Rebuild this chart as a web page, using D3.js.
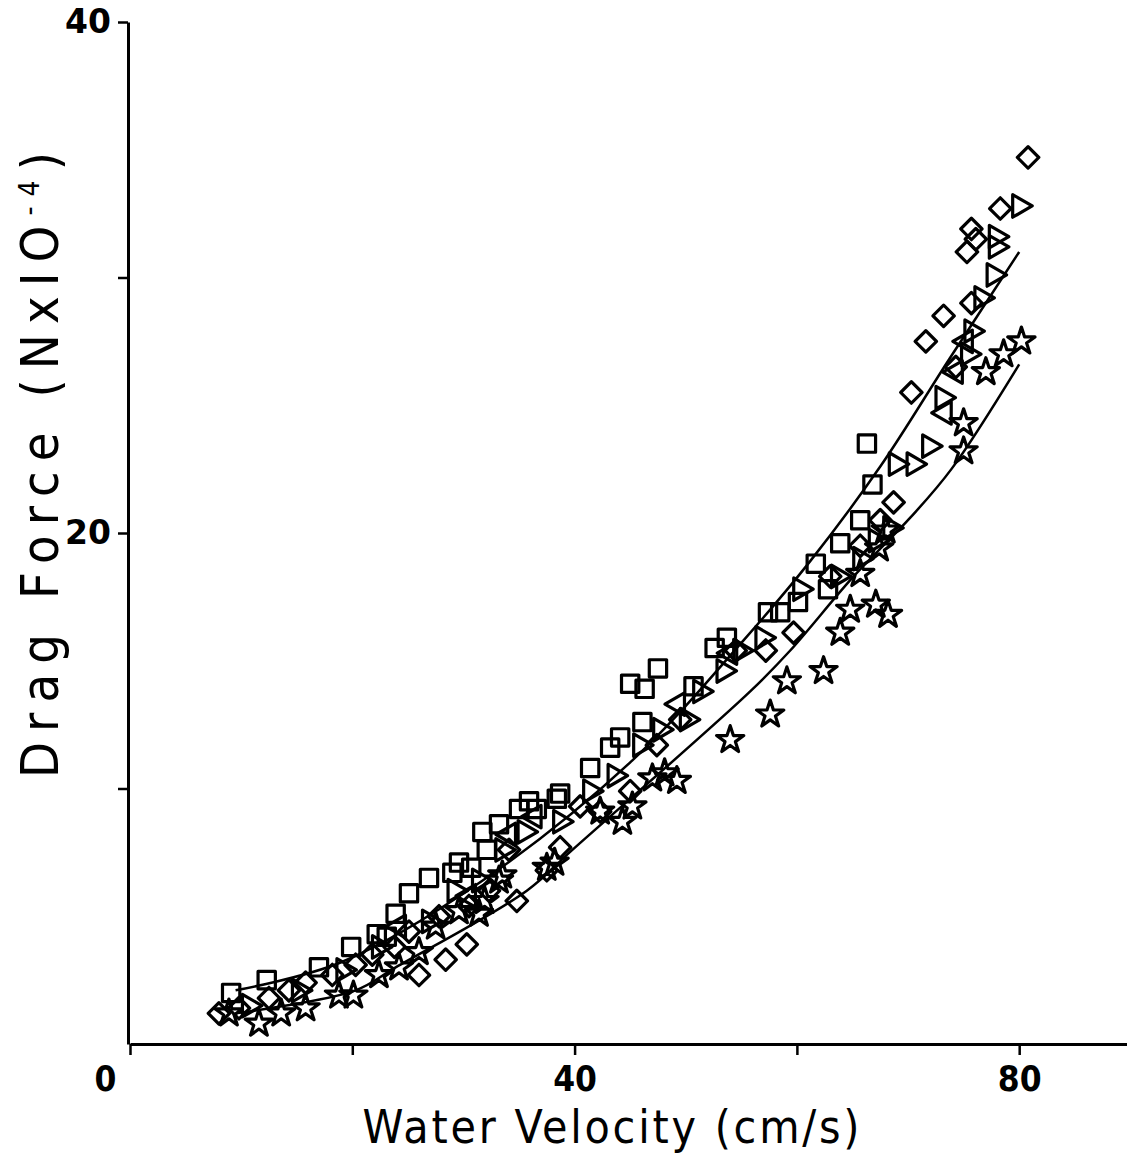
<!DOCTYPE html>
<html>
<head>
<meta charset="utf-8">
<script src="https://cdn.jsdelivr.net/npm/d3@7"></script>
<style>
  body { margin: 0; background: #fff; }
  .axis .domain { stroke: #000; stroke-width: 3; }
  .axis .tick line { stroke: #000; stroke-width: 2.5; }
  .axis .tick text { font-family: "DejaVu Sans", sans-serif; font-weight: bold; font-size: 33px; fill: #000; }
  .x-axis .tick text { font-family: "DejaVu Sans Condensed", "DejaVu Sans", sans-serif; font-size: 35px; }
  .title { font-family: "DejaVu Sans Condensed", "DejaVu Sans", sans-serif; fill: #000; }
</style>
</head>
<body>
<div id="chart"></div>
<script>
// velocity (cm/s), drag force (N x 10^-4)
const squares = [
  [9.1, 2.0], [12.3, 2.5], [17.0, 3.0], [19.9, 3.8], [22.2, 4.3], [23.1, 4.2], [23.9, 5.1],
  [25.1, 5.9], [26.9, 6.5], [29.0, 6.7], [29.6, 7.1], [30.7, 6.9], [31.7, 8.3], [32.1, 7.6],
  [33.2, 8.6], [35.0, 9.2], [35.9, 9.5], [36.6, 9.2], [38.4, 9.6], [38.7, 9.8], [41.4, 10.8],
  [43.2, 11.6], [44.1, 12.0], [46.1, 12.6], [45.0, 14.1], [46.3, 13.9], [47.5, 14.7], [50.7, 14.0],
  [52.6, 15.5], [53.7, 15.9], [57.4, 16.9], [58.5, 16.9], [60.1, 17.3], [61.7, 18.8], [62.8, 17.8],
  [63.9, 19.6], [65.7, 20.5], [66.3, 23.5], [66.8, 21.9]
];
const diamonds = [
  [8.0, 1.2], [9.8, 1.4], [12.5, 1.8], [14.3, 2.1], [15.8, 2.4], [18.2, 2.7], [20.3, 3.1],
  [21.8, 3.5], [23.8, 3.8], [26.0, 2.7], [25.1, 4.4], [28.4, 3.3], [27.8, 5.0], [30.3, 3.9],
  [30.5, 5.4], [32.3, 6.0], [34.8, 5.6], [34.1, 7.6], [37.5, 6.8], [38.7, 7.7], [40.5, 9.3],
  [42.3, 9.1], [45.0, 9.9], [47.4, 11.7], [49.5, 12.7], [54.5, 15.4], [57.2, 15.4], [59.7, 16.1],
  [63.0, 18.3], [65.7, 19.5], [67.5, 20.5], [68.7, 21.2], [70.3, 25.5], [71.6, 27.5], [73.2, 28.5],
  [74.3, 26.5], [75.7, 29.0], [75.3, 31.0], [76.1, 31.5], [75.7, 31.9], [78.3, 32.7], [80.8, 34.7]
];
const trianglesRight = [
  [10.7, 1.5], [15.2, 2.1], [19.2, 2.9], [22.4, 3.8], [26.9, 4.8], [29.2, 6.0], [31.4, 6.4],
  [33.5, 7.6], [35.5, 8.3], [38.7, 8.7], [41.4, 9.9], [43.6, 10.5], [45.9, 11.7], [47.7, 12.3],
  [50.1, 12.7], [51.3, 13.8], [53.4, 14.6], [54.9, 15.4], [56.9, 15.9], [60.3, 17.8], [63.7, 18.3],
  [65.7, 19.0], [67.1, 19.7], [68.4, 20.2], [68.9, 22.7], [70.5, 22.7], [71.9, 23.4], [73.1, 25.3],
  [75.4, 27.0], [75.7, 27.9], [76.6, 29.2], [77.7, 30.1], [77.9, 31.2], [77.9, 31.6], [80.0, 32.8]
];
const trianglesLeft = [
  [24.2, 4.6], [30.5, 5.8], [34.1, 8.2], [36.4, 8.9], [49.3, 13.3], [54.0, 15.3],
  [73.3, 24.7], [74.3, 26.3], [75.2, 27.5]
];
const stars = [
  [8.9, 1.2], [11.6, 0.8], [13.6, 1.2], [15.8, 1.4], [18.8, 1.9], [20.1, 1.9], [22.4, 2.7],
  [24.2, 3.0], [26.0, 3.6], [27.5, 4.6], [29.6, 5.2], [31.4, 5.1], [31.9, 5.6], [33.2, 6.4],
  [33.5, 6.6], [37.5, 6.9], [38.2, 7.1], [42.3, 9.1], [44.3, 8.7], [45.2, 9.3], [47.0, 10.4],
  [48.1, 10.6], [49.2, 10.3], [54.0, 11.9], [57.6, 12.9], [59.1, 14.2], [62.4, 14.6], [63.9, 16.1],
  [64.8, 17.0], [65.7, 18.4], [67.1, 17.2], [68.2, 16.8], [67.4, 19.4], [68.0, 20.1], [75.0, 23.2],
  [75.0, 24.3], [77.0, 26.3], [78.6, 27.0], [80.2, 27.5]
];
// fitted curves
const upperFit = [
  [9.5, 2.1], [19.0, 3.2], [31.4, 6.3], [45.2, 11.1], [55.2, 15.8], [61.2, 18.9],
  [67.5, 22.6], [73.7, 26.8], [80.0, 31.0]
];
const lowerFit = [
  [9.5, 1.2], [20.3, 2.1], [23.9, 3.0], [35.7, 6.0], [39.8, 7.6], [55.8, 13.8], [59.4, 15.4],
  [65.1, 18.3], [70.2, 20.6], [73.9, 22.5], [80.0, 26.6]
];
const xTicks = [0, 20, 40, 60, 80];
const xTickLabels = { 0: '0', 40: '40', 80: '80' };
const yTicks = [10, 20, 30, 40];
const yTickLabels = { 20: '20', 40: '40' };

const width = 1127, height = 1157;

const svg = d3.select('#chart').append('svg')
  .attr('width', width)
  .attr('height', height);

const x = d3.scaleLinear().domain([0, 89.7]).range([130, 1127]);
const y = d3.scaleLinear().domain([0, 40]).range([1044, 22]);

// axes
const xAxis = svg.append('g')
  .attr('class', 'axis x-axis')
  .attr('transform', `translate(0,${y(0)})`)
  .call(d3.axisBottom(x).tickValues(xTicks).tickSize(11).tickSizeOuter(0).tickPadding(11)
    .tickFormat(d => xTickLabels[d] || ''));
xAxis.selectAll('.tick').filter(d => d === 0).select('text').attr('dx', -25);

svg.append('g')
  .attr('class', 'axis')
  .attr('transform', 'translate(128,0)')
  .call(d3.axisLeft(y).tickValues(yTicks).tickSize(10).tickSizeOuter(0).tickPadding(7)
    .tickFormat(d => yTickLabels[d] || ''));

// axis titles, letter-spaced like the original lettering
svg.append('text')
  .attr('class', 'title')
  .attr('font-size', 46)
  .attr('x', 611)
  .attr('y', 1143)
  .attr('text-anchor', 'middle')
  .attr('textLength', 497)
  .attr('lengthAdjust', 'spacing')
  .text('Water Velocity (cm/s)');

const yTitle = svg.append('text')
  .attr('class', 'title')
  .attr('font-size', 52)
  .attr('transform', 'translate(58,465) rotate(-90)')
  .attr('text-anchor', 'middle')
  .attr('textLength', 626)
  .attr('lengthAdjust', 'spacing');
yTitle.append('tspan').text('Drag Force (NxIO');
yTitle.append('tspan').attr('font-size', 28).attr('dy', -19).text('-4');
yTitle.append('tspan').attr('dy', 19).text(')');

// fitted curves
const line = d3.line()
  .x(d => x(d[0]))
  .y(d => y(d[1]))
  .curve(d3.curveCatmullRom);

[upperFit, lowerFit].forEach(fit => {
  svg.append('path')
    .datum(fit)
    .attr('d', line)
    .attr('fill', 'none')
    .attr('stroke', '#000')
    .attr('stroke-width', 2.5);
});

// open markers
function drawMarkers(data, type, size, angle) {
  const sym = d3.symbol().type(type).size(size);
  svg.append('g')
    .selectAll('path')
    .data(data)
    .join('path')
    .attr('d', sym)
    .attr('transform', d => `translate(${x(d[0])},${y(d[1])}) rotate(${angle})`)
    .attr('fill', 'none')
    .attr('stroke', '#000')
    .attr('stroke-width', 3.2)
    .attr('stroke-linejoin', 'round');
}

drawMarkers(squares, d3.symbolSquare, 300, 0);
drawMarkers(diamonds, d3.symbolSquare, 230, 45);
drawMarkers(trianglesRight, d3.symbolTriangle, 220, 90);
drawMarkers(trianglesLeft, d3.symbolTriangle, 220, -90);
drawMarkers(stars, d3.symbolStar, 230, 0);
</script>
</body>
</html>
